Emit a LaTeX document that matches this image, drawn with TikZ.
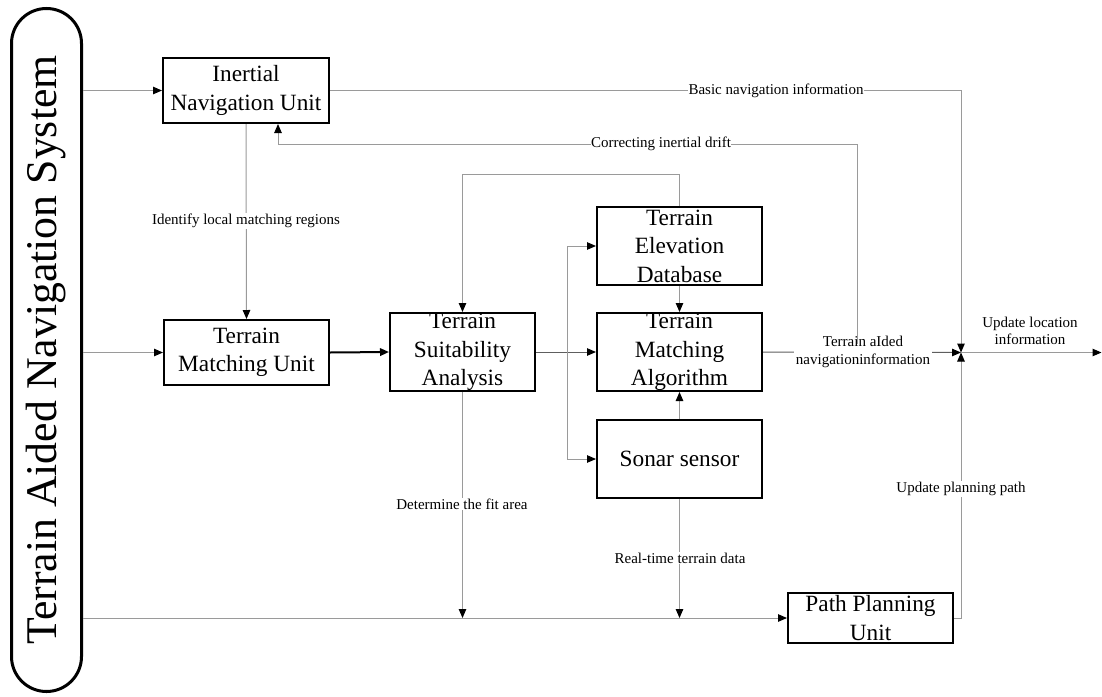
\documentclass[tikz,border=0pt]{standalone}
\usepackage{fontspec}
\setmainfont{Liberation Serif}
\usepackage{graphicx}
\usetikzlibrary{arrows.meta,calc}
\definecolor{linegray}{HTML}{9A9A9A}
\definecolor{darkline}{HTML}{5E5E5E}
\begin{document}
\begin{tikzpicture}[x=1pt,y=1pt,
  box/.style={draw=black, line width=2.4pt, fill=white, inner sep=0pt, align=center,
              font=\fontsize{23.3}{28.5}\selectfont},
  conn/.style={draw=linegray, line width=1pt},
  darkconn/.style={draw=darkline, line width=1pt},
  tip/.style={-{Triangle[length=9pt,width=7.5pt,color=black]}},
  lbl/.style={font=\fontsize{15}{17.5}\selectfont, fill=white, inner sep=1pt, align=center},
  pill/.style={draw=black, line width=3pt, rounded corners=35pt, inner sep=0pt}]
\useasboundingbox (0,0) rectangle (1102,-696);

% system frame
\node[pill, minimum width=70pt, minimum height=683pt] (tans) at (46.5,-350)
  {\rotatebox{90}{\fontsize{43.8}{44}\selectfont Terrain Aided Navigation System}};

% units
\node[box, minimum width=165.6pt, minimum height=64.6pt] (inu) at (246,-90.5) {Inertial\\Navigation Unit};
\node[box, minimum width=164.6pt, minimum height=64.6pt] (tmu) at (246.5,-352.5) {Terrain\\Matching Unit};
\node[box, minimum width=144.6pt, minimum height=77.6pt] (tsa) at (462.5,-352) {Terrain\\Suitability\\Analysis};
\node[box, minimum width=164.6pt, minimum height=77.6pt] (ted) at (679.5,-246) {Terrain\\Elevation\\Database};
\node[box, minimum width=164.6pt, minimum height=77.6pt] (tma) at (679.5,-352) {Terrain\\Matching\\Algorithm};
\node[box, minimum width=164.6pt, minimum height=77.6pt] (sonar) at (679.5,-459) {Sonar sensor};
\node[box, minimum width=164.6pt, minimum height=49.6pt] (ppu) at (870.5,-618) {Path Planning\\Unit};

% junction and helper points
\coordinate (jn) at (961,-352.5);
\coordinate (split) at (567,-352);
\coordinate (drifttap) at (857,-344);
\coordinate (driftturn) at (278,-144);
\coordinate (outend) at (1101.5,-352.5);

% inputs from the system frame
\draw[conn,tip] (tans.east |- inu.west) -- (inu.west);
\draw[conn,tip] (tans.east |- tmu.west) -- (tmu.west);
\draw[conn,tip] (tans.east |- ppu.west) -- (ppu.west);

% matching chain
\draw[conn,tip] (inu.south) -- (tmu.north);
\node[lbl] (lid) at (246,-221) {Identify local matching regions};
\draw[draw=black, line width=2pt, tip] (tmu.east) -- (tsa.west);
\draw[darkconn,tip] (tsa.east) -- (tma.west);
\draw[conn,tip] (split) |- (ted.west);
\draw[conn,tip] (split) |- (sonar.west);
\draw[conn,tip] (ted.south) -- (tma.north);
\draw[conn,tip] (sonar.north) -- (tma.south);
\draw[conn,tip] (ted.north) -- ++(0,32) -| (tsa.north);

% down to the path planning line
\draw[conn,tip] (tsa.south) -- (tsa.south |- ppu.west);
\node[lbl] (lfit) at (462,-504) {Determine the fit area};
\draw[conn,tip] (sonar.south) -- (sonar.south |- ppu.west);
\node[lbl] (lrt) at (680,-558) {Real-time terrain data};

% outputs to the junction
\draw[conn,tip] (inu.east) -| (jn);
\node[lbl, inner xsep=0.5pt] (lbasic) at (776,-90.5) {Basic navigation information};
\draw[darkconn,tip] (tma.east) -- (jn);
\node[lbl, inner sep=2pt] (ltan) at (863,-352) {Terrain aIded\\[0.5pt]navigationinformation};
\draw[conn,tip] (ppu.east) -| (jn);
\node[lbl] (lplan) at (961,-489) {Update planning path};
\draw[conn,tip] (jn) -- (outend);
\node[font=\fontsize{15}{17}\selectfont, align=center, inner sep=0pt] (lloc) at (1030,-331) {Update location\\information};

% drift correction feedback
\draw[conn,tip] (drifttap) |- (driftturn) -- (driftturn |- inu.south);
\node[lbl, inner xsep=0.5pt] (ldrift) at (661,-144) {Correcting inertial drift};
\end{tikzpicture}
\end{document}
